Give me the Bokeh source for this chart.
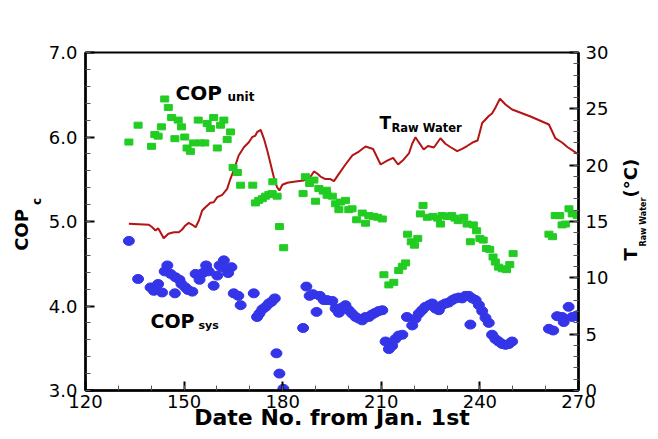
import math
from bokeh.plotting import figure
from bokeh.models import (Range1d, LinearAxis, SingleIntervalTicker, PrintfTickFormatter,
                          FixedTicker, CustomJSTickFormatter, Label)
from bokeh.embed import file_html
from bokeh.resources import INLINE

# ---------------- data ----------------
unit_day = [133.2, 136.0, 140.1, 141.1, 142.1, 143.1, 144.1, 145.2, 146.2, 147.2,
            148.2, 149.2, 150.2, 150.9, 151.9, 152.9, 154.3, 155.0, 156.3, 157.0,
            158.0, 159.0, 160.1, 161.1, 162.1, 163.1, 164.1, 164.9, 166.2, 167.2,
            170.9, 171.7, 172.7, 173.8, 174.8, 175.8, 176.8, 177.0, 178.3, 179.0,
            180.3,
            186.2, 186.9, 188.2, 189.5, 190.0, 191.0, 192.3, 193.3, 193.5, 195.1,
            196.1, 197.1, 197.6, 199.1, 200.1, 201.1, 202.5, 204.2, 205.2, 206.2,
            207.7, 208.9, 210.3,
            210.8, 212.3, 213.8, 215.3, 216.4, 217.4, 218.0, 219.1, 220.1, 221.1,
            221.9, 222.7, 224.0, 225.7, 227.1, 228.0, 228.5, 230.0, 231.4, 232.4,
            233.4, 235.1, 236.1, 237.1, 238.0, 239.0, 240.0, 241.0, 242.0, 243.0,
            244.0, 244.7, 245.7, 246.8, 248.1, 249.1, 250.1,
            261.0, 262.1, 262.9, 264.3, 265.0, 266.0, 267.1, 268.1, 269.6]
unit_cop = [5.94, 6.14, 5.89, 6.03, 6.01, 6.12, 6.45, 6.35, 6.23, 5.98,
            6.20, 6.12, 6.00, 5.87, 5.83, 5.93, 6.20, 5.93, 5.93, 6.16,
            6.10, 6.23, 5.87, 6.14, 6.20, 5.97, 6.06, 5.64, 5.58, 5.43,
            5.43, 5.22, 5.25, 5.27, 5.30, 5.32, 5.33, 5.47, 5.30, 4.94,
            4.69,
            5.33, 5.53, 5.45, 5.49, 5.24, 5.39, 5.36, 5.37, 5.31, 5.30,
            5.21, 5.14, 5.23, 5.25, 5.14, 5.15, 5.02, 5.10, 4.98, 5.07,
            5.06, 5.05, 5.03,
            4.37, 4.25, 4.28, 4.42, 4.47, 4.51, 4.85, 4.76, 4.72, 4.80,
            5.09, 5.19, 5.05, 5.06, 5.04, 4.97, 5.07, 5.06, 5.07, 5.04,
            5.01, 5.05, 4.97, 4.76, 4.96, 4.89, 4.80, 4.78, 4.68, 4.67,
            4.58, 4.52, 4.46, 4.44, 4.43, 4.49, 4.62,
            4.85, 4.82, 5.07, 5.07, 4.96, 4.97, 5.15, 5.09, 5.07]

sys_day = [133.2, 136.0, 139.8, 140.8, 142.1, 143.3, 144.1, 144.9, 145.9, 147.2,
           147.4, 148.6, 149.2, 150.4, 151.2, 152.5, 153.5, 154.7, 155.7, 156.7,
           157.5, 159.0, 160.1, 160.8, 161.4, 162.1, 163.4, 164.4, 165.1, 166.5,
           167.2, 171.2, 172.2, 172.9, 173.8, 174.8, 175.8, 176.6, 177.6, 178.1,
           179.0, 180.2,
           186.2, 187.2, 188.2, 189.2, 190.3, 191.3, 192.5, 193.5, 195.1, 196.1,
           197.1, 197.9, 199.1, 200.1, 201.1, 202.2, 203.2, 204.2, 205.2, 206.2,
           207.2, 208.2, 209.2, 210.3, 211.3, 212.3, 213.3, 214.3, 215.3, 216.4,
           217.8, 219.4, 220.4, 221.4, 222.4, 223.4, 224.5, 225.5, 226.5, 227.5,
           228.5, 229.5, 230.5, 231.6, 232.6, 233.6, 234.6, 235.6, 236.6, 237.1,
           237.7, 238.7, 239.7, 240.7, 241.7, 242.7, 243.7, 244.7, 245.7, 246.8,
           247.8, 248.8, 249.8,
           261.0, 262.3, 263.5, 265.0, 265.5, 267.0, 268.1, 269.6, 270.5]
sys_cop = [4.77, 4.32, 4.22, 4.18, 4.26, 4.16, 4.41, 4.48, 4.38, 4.15,
           4.34, 4.31, 4.26, 4.22, 4.19, 4.17, 4.38, 4.31, 4.39, 4.48,
           4.41, 4.24, 4.36, 4.48, 4.46, 4.54, 4.39, 4.46, 4.15, 4.12,
           4.01, 4.15, 3.87, 3.91, 3.96, 3.99, 4.03, 4.05, 4.09, 3.44,
           3.20, 3.02,
           3.74, 4.23, 4.12, 4.14, 3.93, 4.12, 4.07, 4.07, 4.06, 3.97,
           3.92, 3.98, 4.01, 3.95, 3.91, 3.87, 3.85, 3.83, 3.87, 3.87,
           3.90, 3.92, 3.94, 3.95, 3.58, 3.49, 3.53, 3.61, 3.65, 3.66,
           3.87, 3.77, 3.85, 3.91, 3.95, 3.99, 4.01, 4.03, 3.97, 3.95,
           4.01, 4.03, 4.04, 4.07, 4.09, 4.10, 4.09, 4.12, 4.12, 3.78,
           4.09, 4.07, 4.01, 3.94, 3.86, 3.80, 3.66, 3.61, 3.58, 3.55,
           3.54, 3.55, 3.58,
           3.73, 3.71, 3.88, 3.87, 3.81, 3.99, 3.87, 3.89, 3.86]

raw_day = [133.2, 139.3, 140.3, 141.3, 142.1, 142.8, 143.8, 145.2, 146.9, 148.4,
           149.4, 150.4, 151.4, 152.5, 153.5, 154.5, 155.5, 156.5, 158.0, 159.0,
           160.1, 161.6, 163.1, 164.1, 165.1, 166.6, 168.2, 169.7, 170.7, 171.7,
           172.2, 173.3, 174.3, 175.3, 176.3, 177.3, 178.3, 179.0, 179.9, 181.4,
           183.9, 186.4, 188.5, 189.5, 190.5, 191.5, 193.0, 194.5, 195.6, 197.1,
           199.1, 201.2, 203.2, 205.2, 207.5, 209.2, 209.8, 211.8, 213.6, 215.1,
           216.5, 218.4, 219.4, 220.4, 221.4, 222.9, 224.2, 226.0, 228.0, 229.5,
           231.1, 233.1, 234.6, 236.1, 238.1, 239.3, 240.7, 242.7, 243.7, 244.8,
           246.1, 247.8, 249.8, 255.4, 261.0, 263.0, 265.0, 266.6, 270.0]
raw_temp = [14.80, 14.71, 14.49, 14.20, 14.41, 14.05, 13.52, 13.91, 14.05, 14.05,
            14.29, 14.65, 14.88, 14.71, 14.49, 15.09, 15.98, 16.27, 16.66, 16.71,
            17.16, 17.37, 17.90, 18.79, 19.53, 20.86, 21.59, 22.04, 22.48, 22.63,
            22.93, 23.14, 22.34, 21.30, 20.12, 18.93, 18.04, 17.75, 18.26, 18.44,
            18.55, 18.64, 18.99, 19.44, 19.26, 18.99, 18.77, 18.77, 18.58, 19.23,
            20.06, 20.86, 21.21, 21.66, 21.44, 20.41, 20.06, 20.41, 20.64, 20.06,
            20.41, 21.04, 21.90, 22.48, 22.04, 21.39, 21.70, 21.57, 22.39, 21.90,
            21.59, 21.24, 21.45, 21.70, 22.06, 22.19, 23.74, 24.36, 24.59, 25.15,
            25.89, 25.38, 24.94, 24.32, 23.61, 22.37, 22.01, 21.61, 20.95]

x_title = "Date No. from Jan. 1st"
left_title = ["COP", "c"]
right_title = ["T", "Raw Water", "(°C)"]

# ---------------- figure ----------------
W, H = 658, 439
FL, FR, FT, FB = 85, 578, 52, 390      # frame edges in page pixels
p = figure(width=W, height=H, output_backend="svg", toolbar_location=None,
           x_range=Range1d(120, 270), y_range=Range1d(3, 7),
           min_border_left=FL, min_border_right=W - FR, min_border_top=FT,
           min_border_bottom=H - FB)
p.extra_y_ranges = {"T": Range1d(0, 30)}
p.xgrid.visible = False
p.ygrid.visible = False
p.background_fill_color = "white"
p.border_fill_color = "white"
p.outline_line_color = "black"
p.outline_line_width = 2

def X(px):
    return 120 + (px - FL) * 150.0 / (FR - FL)

def Y(py):
    return 7 - (py - FT) * 4.0 / (FB - FT)

# axes
xa = p.xaxis[0]
xa.ticker = SingleIntervalTicker(interval=30, num_minor_ticks=3)
ya = p.yaxis[0]
ya.ticker = SingleIntervalTicker(interval=1, num_minor_ticks=5)
ya.formatter = PrintfTickFormatter(format="%.1f")
ra = LinearAxis(y_range_name="T",
                ticker=SingleIntervalTicker(interval=5, num_minor_ticks=5))
p.add_layout(ra, "right")

for ax, standoff in ((xa, 4), (ya, 8), (ra, 7)):
    ax.axis_line_width = 2.5
    ax.axis_line_color = "black"
    ax.major_tick_in = 9
    ax.major_tick_out = 0
    ax.major_tick_line_width = 2
    ax.major_tick_line_color = "black"
    ax.minor_tick_in = 5
    ax.minor_tick_out = 0
    ax.minor_tick_line_width = 1
    ax.minor_tick_line_color = "#555555"
    ax.major_label_text_font = "DejaVu Sans"
    ax.major_label_text_font_size = "18px"
    ax.major_label_text_color = "black"
    ax.major_label_standoff = standoff

xa.axis_label = x_title
xa.axis_label_text_font = "DejaVu Sans"
xa.axis_label_text_font_style = "bold"
xa.axis_label_text_font_size = "22px"
xa.axis_label_text_color = "black"
xa.axis_label_standoff = -6

# text-only axes used as rotated axis titles (outside the frame)
def title_axis(texts, ticks, size, orientation, standoff, range_name="default"):
    code = "const t = %r; return t[index];" % (texts,)
    ax = LinearAxis(ticker=FixedTicker(ticks=ticks, minor_ticks=[]),
                    formatter=CustomJSTickFormatter(code=code),
                    y_range_name=range_name)
    ax.axis_line_color = None
    ax.major_tick_line_color = None
    ax.minor_tick_line_color = None
    ax.major_label_orientation = orientation
    ax.major_label_standoff = standoff
    ax.major_label_text_font = "DejaVu Sans"
    ax.major_label_text_font_style = "bold"
    ax.major_label_text_font_size = size
    ax.major_label_text_color = "black"
    return ax

p.add_layout(title_axis([left_title[1]], [Y(201)], "12px", "vertical", -4), "left")
p.add_layout(title_axis([left_title[0]], [Y(229.5)], "18px", "vertical", -11), "left")
p.add_layout(title_axis([right_title[0], right_title[2]], [Y(260), Y(197)], "18px",
                        math.pi / 2, 13), "right")
p.add_layout(title_axis([right_title[1]], [Y(246)], "8px", math.pi / 2, -17), "right")

# glyphs
p.line(raw_day, raw_temp, y_range_name="T", line_color="#b41414", line_width=2)
p.rect(unit_day, unit_cop, width=8, height=6, width_units="screen",
       height_units="screen", fill_color="#22cc22", line_color="#22cc22")
p.ellipse(sys_day, sys_cop, width=11, height=9, width_units="screen",
          height_units="screen", fill_color="#3434e8", line_color="#3434e8")

# in-plot labels (positions given in page pixels)
def lab(text, px, py, size):
    p.add_layout(Label(x=X(px), y=Y(py), text=text, text_font="DejaVu Sans",
                       text_font_size=size, text_font_style="bold",
                       text_align="left", text_baseline="alphabetic",
                       text_color="black"))

lab("COP", 175, 92, "20px")
lab("unit", 227, 96, "12px")
lab("T", 379, 122, "17px")
lab("Raw Water", 391, 127, "11.5px")
lab("COP", 150, 320, "19px")
lab("sys", 198, 325, "11px")

open("out.html", "w").write(file_html(p, INLINE))
